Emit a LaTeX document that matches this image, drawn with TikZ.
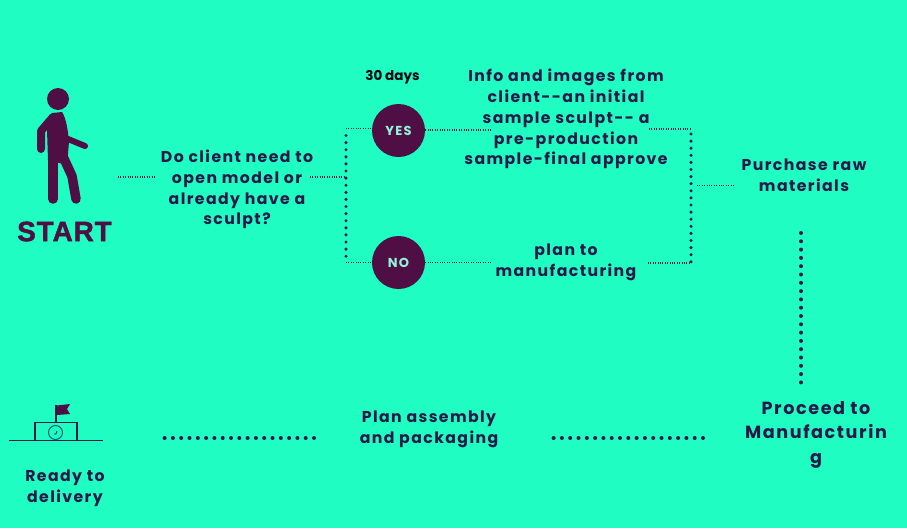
\documentclass[tikz,border=0pt]{standalone}
\usepackage{fontspec}
\setmainfont{Poppins}[BoldFont={Poppins Bold},LetterSpace=9]
\newfontfamily\plainbold{Poppins}[BoldFont={Poppins Bold},LetterSpace=0]
\newfontfamily\heavy{Liberation Sans}[BoldFont={Liberation Sans Bold},BoldFeatures={FakeBold=1.5},LetterSpace=3]
\definecolor{bgc}{HTML}{1FFDC3}
\definecolor{ink}{HTML}{2A1848}
\definecolor{plum}{HTML}{4F0F44}
\definecolor{yesc}{HTML}{8FF5DC}
\tikzset{
 lbl/.style={align=center,text=ink,font=\bfseries\fontsize{15.7}{20.8}\selectfont,inner sep=0pt},
 thin dots/.style={draw=ink,line width=1.1pt,dash pattern=on 1pt off 1.4pt},
 big dots/.style={draw=ink,line width=4pt,line cap=round,dash pattern=on 0pt off 8.3pt},
 mid dots/.style={draw=ink,line width=3.4pt,line cap=round,dash pattern=on 0pt off 7.1pt},
 disc/.style={circle,fill=plum,minimum size=53pt,inner sep=0pt,text=yesc,font=\bfseries\fontsize{13}{14}\selectfont},
 limb/.style={draw=plum,line cap=round,line join=round},
}
\begin{document}
\begin{tikzpicture}[x=1pt,y=-1pt]
\useasboundingbox (0,0) rectangle (907,528);
\fill[bgc] (0,0) rectangle (907,528);
% person
\fill[plum] (58,99) circle (11);
\fill[plum] (52,113) -- (62,112) .. controls (66,118) and (68,130) .. (69,142) -- (67,165) -- (48,160) -- (47,130) -- cycle;
\draw[limb,line width=8pt] (53,117) -- (41,131) -- (41,149);
\draw[limb,line width=6pt] (68,139) -- (85,146);
\draw[limb,line width=9.5pt] (53,150) -- (53,199);
\draw[limb,line width=9.5pt] (60,150) -- (72,176) -- (76,199);
\node[font=\heavy\bfseries\fontsize{28}{30}\selectfont,text=plum,inner sep=0pt] (start) at (64.5,231.5) {START};
% flag icon
\coordinate (gl) at (9,440.5);
\coordinate (gr) at (103,440.5);
\draw[ink,line width=1pt] (gl) -- (gr);
\draw[ink,line width=1.2pt] (35,440) -- (35,422.5) -- (77,422.5) -- (77,440);
\draw[teal!70!ink,line width=1pt] (55.5,432.5) circle (7);
\draw[ink,line width=.7pt] (54,434) -- (56,434) -- (57,431);
\draw[ink,line width=1.6pt] (56,422) -- (56,405);
\fill[plum] (57,405.5) -- (70,404) -- (67,409) -- (70,414) -- (57,415) -- cycle;
% nodes
\node[disc] (yes) at (398.5,130.5) {YES};
\node[disc] (no) at (398.5,262.5) {NO};
\node[lbl] (ask) at (237,189.5) {Do client need to\\open model or\\already have a\\sculpt?};
\node[font=\plainbold\bfseries\fontsize{13.5}{15}\selectfont,text=black!75!ink,inner sep=0pt] (days) at (392.5,77.5) {30 days};
\node[lbl] (info) at (566,119) {Info and images from\\client{-}{-}an initial\\sample sculpt{-}{-} a\\pre-production\\sample-final approve};
\node[lbl] (plan) at (566,262.5) {plan to\\manufacturing};
\node[lbl] (raw) at (804,175.5) {Purchase raw\\materials};
\node[lbl,font=\bfseries\fontsize{17.6}{24.5}\selectfont] (mfg) at (816,434.5) {Proceed to\\Manufacturin\\g};
\node[lbl] (pack) at (429,429) {Plan assembly\\and packaging};
\node[lbl] (ready) at (65,488.5) {Ready to\\delivery};
% junction coordinates
\coordinate (jl1) at (346,128.5);
\coordinate (jl2) at (346,262.5);
\coordinate (jlm) at (346,177);
\coordinate (jr1) at (691,129);
\coordinate (jr2) at (691,263);
\coordinate (jrm) at (691,185.5);
% connectors
\draw[thin dots] (118,177) -- (155,177);
\draw[thin dots] (310,177) -- (jlm);
\draw[thin dots] (jl1) -- (yes.west |- jl1);
\draw[thin dots] (jl2) -- (no.west |- jl2);
\draw[thin dots] (yes.east |- 0,130) -- (492,130);
\draw[thin dots] (no.east |- 0,262.5) -- (491,262.5);
\draw[thin dots] (649,129) -- (jr1);
\draw[thin dots] (648,263) -- (jr2);
\draw[thin dots] (jrm) ++(6,0) -- (734,185.5);
\draw[mid dots] (jl1) ++(0,7) -- (jl2);
\draw[mid dots] (jr1) ++(0,5) -- (jr2);
\draw[big dots] (801,233) -- (801,383);
\draw[big dots] (703,438) -- (551,438);
\draw[big dots] (314,438) -- (163,438);
\end{tikzpicture}
\end{document}
